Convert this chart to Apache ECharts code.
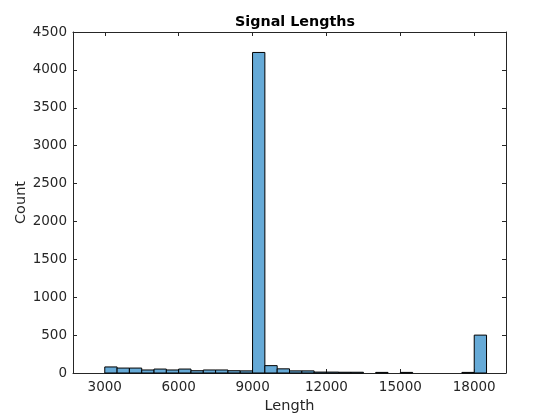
<!DOCTYPE html>
<html>
<head>
<meta charset="utf-8">
<script src="https://cdn.jsdelivr.net/npm/echarts@6/dist/echarts.min.js"></script>
<style>html,body{margin:0;padding:0;background:#fff;}#c{width:560px;height:420px;}</style>
</head>
<body>
<div id="c"></div>
<script>
// Histogram bin left edges (bin width 500) and counts
const binStarts = [3000,3500,4000,4500,5000,5500,6000,6500,7000,7500,8000,8500,9000,9500,10000,10500,11000,11500,12000,12500,13000,13500,14000,14500,15000,15500,16000,16500,17000,17500,18000];
const binEnds   = [3500,4000,4500,5000,5500,6000,6500,7000,7500,8000,8500,9000,9500,10000,10500,11000,11500,12000,12500,13000,13500,14000,14500,15000,15500,16000,16500,17000,17500,18000,18500];
const counts    = [80,65,65,40,52,40,52,30,40,40,30,28,4230,97,55,28,28,12,12,10,10,0,8,0,8,0,0,0,0,8,500];
const xTicks = [3000,6000,9000,12000,15000,18000];
const yTicks = [0,500,1000,1500,2000,2500,3000,3500,4000,4500];

const chart = echarts.init(document.getElementById('c'), null, {renderer:'canvas'});
const data = binStarts.map((s,i)=>[s, binEnds[i], counts[i]]).filter(d=>d[2]>0);
const axisColor = '#262626';
const font = 'DejaVu Sans';
const plain = v => String(v);
chart.setOption({
  animation:false,
  backgroundColor:'#fff',
  title:{text:'Signal Lengths', left:290, textAlign:'center', top:10,
    textStyle:{fontFamily:font, fontWeight:'bold', fontSize:14.3, color:'#000'}},
  grid:{left:73, right:54, top:32, bottom:47, containLabel:false, outerBoundsMode:'none'},
  xAxis:[{
    type:'value', min:1710, max:19290, position:'bottom',
    axisLine:{onZero:false, lineStyle:{color:axisColor, width:1}},
    axisTick:{inside:true, length:4, customValues:xTicks, lineStyle:{color:axisColor}},
    axisLabel:{customValues:xTicks, formatter:plain, margin:7, fontFamily:font, fontSize:13.5, color:axisColor},
    splitLine:{show:false},
    name:'Length', nameLocation:'middle', nameGap:26, nameMoveOverlap:false,
    nameTextStyle:{fontFamily:font, fontSize:14.5, color:axisColor}
  },{
    type:'value', min:1710, max:19290, position:'top',
    axisLine:{onZero:false, lineStyle:{color:axisColor, width:1}},
    axisTick:{inside:true, length:4, customValues:xTicks, lineStyle:{color:axisColor}},
    axisLabel:{show:false}, splitLine:{show:false}
  }],
  yAxis:[{
    type:'value', min:0, max:4500, position:'left',
    axisLine:{show:true, onZero:false, lineStyle:{color:axisColor, width:1}},
    axisTick:{show:true, inside:true, length:4, customValues:yTicks, lineStyle:{color:axisColor}},
    axisLabel:{customValues:yTicks, formatter:plain, margin:6, fontFamily:font, fontSize:13.5, color:axisColor},
    splitLine:{show:false},
    name:'Count', nameLocation:'middle', nameGap:44, nameRotate:90, nameMoveOverlap:false,
    nameTextStyle:{fontFamily:font, fontSize:14.5, color:axisColor}
  },{
    type:'value', min:0, max:4500, position:'right',
    axisLine:{show:true, onZero:false, lineStyle:{color:axisColor, width:1}},
    axisTick:{show:true, inside:true, length:4, customValues:yTicks, lineStyle:{color:axisColor}},
    axisLabel:{show:false}, splitLine:{show:false}
  }],
  series:[{
    type:'custom', xAxisIndex:0, yAxisIndex:0,
    data:data,
    encode:{x:[0,1], y:2},
    renderItem:function(params, api){
      const p0 = api.coord([api.value(0), api.value(2)]);
      const p1 = api.coord([api.value(1), 0]);
      return {type:'rect',
        shape:{x:p0[0], y:p0[1], width:p1[0]-p0[0], height:p1[1]-p0[1]},
        style:{fill:'#66AAD7', stroke:'#000', lineWidth:1}};
    }
  }]
});
</script>
</body>
</html>
